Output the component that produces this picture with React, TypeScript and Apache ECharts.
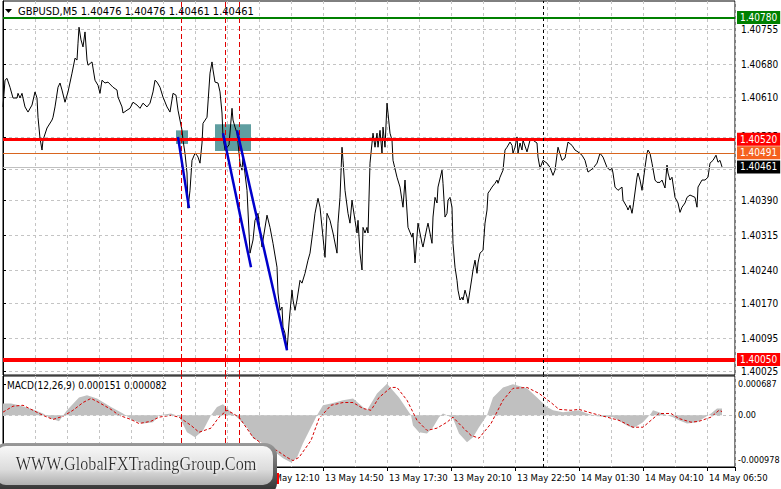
import React, { useEffect, useRef } from 'react';
import * as echarts from 'echarts';

const FONT = '"DejaVu Sans Condensed", "Liberation Sans", sans-serif';

const chartTitle = 'GBPUSD,M5 1.40476 1.40476 1.40461 1.40461';
const macdTitle = 'MACD(12,26,9) 0.000151 0.000082';
const logoText = 'WWW.GlobalFXTradingGroup.Com';

// time labels every 32 bars (M5 => 160 min), starting at bar 0
const timeLabels = [
  '13 May 01:30', '13 May 04:10', '13 May 06:50', '13 May 09:30', '13 May 12:10', '13 May 14:50',
  '13 May 17:30', '13 May 20:10', '13 May 22:50', '14 May 01:30', '14 May 04:10', '14 May 06:50',
];
const priceTicks = [1.40025, 1.40095, 1.4017, 1.4024, 1.40315, 1.4039, 1.40455, 1.40525, 1.4061, 1.4068, 1.40755];
const priceLabelTicks = [1.40025, 1.40095, 1.4017, 1.4024, 1.40315, 1.4039, 1.40525, 1.4061, 1.4068, 1.40755];
const macdTicks = [-0.000978, 0, 0.000687];

// [bar index, close]
const priceBars: [number, number][] = [
  [0, 1.40589], [1, 1.40646], [2, 1.4065], [3.5, 1.40631], [5, 1.40608], [7, 1.40608], [7.5, 1.40618], [8.5, 1.40608],
  [9.5, 1.40618], [10, 1.40608], [11, 1.40589], [12.5, 1.40578], [14.5, 1.40593], [16, 1.40621], [17, 1.40608],
  [17.5, 1.40567], [18.5, 1.40522], [19.5, 1.40497], [20, 1.40518], [22, 1.40544], [24.5, 1.40561], [25, 1.40567],
  [26, 1.40589], [27.5, 1.40631], [28.5, 1.4064], [29.5, 1.40625], [31, 1.40599], [32.5, 1.40621], [34.5, 1.40661],
  [36, 1.40693], [37, 1.40689], [37.5, 1.40725], [38, 1.40759], [39, 1.40732], [40, 1.40717], [41, 1.40749],
  [42, 1.40689], [42.5, 1.40678], [44.5, 1.40685], [46, 1.40646], [47.5, 1.40635], [48.5, 1.40618], [49.5, 1.40646],
  [51, 1.4064], [52.5, 1.40642], [55, 1.40631], [57, 1.40625], [57.5, 1.4061], [59.5, 1.40589], [60, 1.40576],
  [62, 1.40582], [63.5, 1.40586], [65, 1.40599], [67, 1.40593], [68.5, 1.40586], [70, 1.40597], [72, 1.40589],
  [73.5, 1.40597], [75, 1.40621], [76, 1.40646], [77, 1.40642], [78.5, 1.40631], [80, 1.4061], [82, 1.40589],
  [83.5, 1.40578], [85, 1.40618], [86.5, 1.40614], [87.5, 1.40582], [89.5, 1.40539], [90, 1.40518], [91, 1.4049],
  [92, 1.40448], [92.5, 1.40373], [93.5, 1.40411], [94.5, 1.40475], [96, 1.4049], [97, 1.40486], [97.5, 1.40482],
  [98.5, 1.40469], [99.5, 1.40512], [100, 1.40554], [102, 1.40567], [103.5, 1.40661], [104.5, 1.40685], [105, 1.40668],
  [106, 1.40642], [107.5, 1.4064], [108.5, 1.40621], [109.5, 1.40576], [110, 1.40525], [111, 1.40497], [113, 1.40508],
  [114.5, 1.40586], [115, 1.40561], [116, 1.40546], [117, 1.40533], [118.5, 1.40469], [119.5, 1.40454], [120, 1.40482],
  [122, 1.40411], [123.5, 1.40277], [125, 1.40305], [126, 1.40347], [127.5, 1.40362], [129.5, 1.4029], [130, 1.40305],
  [132, 1.40358], [133.5, 1.40332], [135, 1.40298], [137, 1.40247], [137.5, 1.40192], [138.5, 1.40155], [139.5, 1.40162],
  [140, 1.40119], [141, 1.40106], [142, 1.4007], [142.5, 1.40098], [143, 1.40128], [144.5, 1.40198], [145, 1.40177],
  [146, 1.40155], [147, 1.40177], [148.5, 1.40219], [149.5, 1.40213], [151, 1.40234], [152.5, 1.40262], [153.5, 1.40277],
  [155, 1.40326], [156, 1.40362], [157.5, 1.40394], [158.5, 1.40375], [160, 1.40311], [161, 1.40268], [162, 1.40362],
  [163.5, 1.40347], [165, 1.4032], [167, 1.40277], [167.5, 1.40341], [168.5, 1.40396], [169.5, 1.40503], [170, 1.40475],
  [171, 1.40411], [172.5, 1.40362], [173.5, 1.40341], [174.5, 1.4039], [175, 1.40375], [176, 1.40347], [177, 1.4032],
  [177.5, 1.40347], [178.5, 1.40277], [179.5, 1.40241], [180, 1.40332], [181, 1.4032], [182, 1.40332], [182.5, 1.4032],
  [183.5, 1.40469], [184.5, 1.40512], [185, 1.40533], [186, 1.40503], [187, 1.40533], [187.5, 1.40503], [188.5, 1.40539],
  [189.5, 1.4049], [190, 1.40546], [191, 1.40503], [192, 1.40597], [192.5, 1.40576], [193.5, 1.40533], [194.5, 1.40518],
  [195, 1.40475], [197, 1.40439], [198.5, 1.40418], [200, 1.40375], [201, 1.40433], [202.5, 1.40332], [204.5, 1.40311],
  [205, 1.4032], [206, 1.40256], [207.5, 1.40341], [209.5, 1.40298], [210, 1.4029], [212, 1.40332], [212.5, 1.40341],
  [214.5, 1.40298], [215, 1.40354], [216, 1.40396], [217, 1.40384], [217.5, 1.40418], [219.5, 1.40454], [220, 1.40426],
  [221, 1.40354], [222, 1.40362], [222.5, 1.4039], [223.5, 1.40396], [224.5, 1.40375], [225, 1.40298], [226, 1.40247],
  [227, 1.40219], [227.5, 1.40198], [228.5, 1.40177], [229.5, 1.40183], [230, 1.40177], [231, 1.40198], [232, 1.40183],
  [232.5, 1.4017], [233.5, 1.40198], [234.5, 1.40226], [235, 1.40241], [236, 1.40262], [237, 1.40234], [237.5, 1.40256],
  [238.5, 1.40277], [240, 1.40283], [241, 1.40341], [242, 1.40369], [242.5, 1.40405], [243.5, 1.40411], [244.5, 1.40418],
  [246, 1.40426], [247, 1.40433], [247.5, 1.40426], [248.5, 1.40439], [250, 1.40454], [251, 1.40497], [252, 1.40503],
  [253.5, 1.40514], [254.5, 1.40507], [255, 1.4049], [256, 1.40503], [257, 1.40525], [257.5, 1.4049], [258.5, 1.40512],
  [259.5, 1.40497], [260, 1.40518], [262, 1.40493], [263.5, 1.40518], [265, 1.40518], [267, 1.40512], [267.5, 1.40482],
  [268.5, 1.40458], [270, 1.40475], [272, 1.40469], [273.5, 1.4046], [275, 1.40443], [276, 1.40454], [277.5, 1.40503],
  [279.5, 1.40475], [281, 1.4048], [282.5, 1.40514], [284.5, 1.40507], [286, 1.40497], [287.5, 1.40493], [289.5, 1.40486],
  [291, 1.40475], [292.5, 1.4045], [295, 1.40458], [297, 1.40469], [298.5, 1.4049], [300, 1.40482], [302, 1.4046],
  [303.5, 1.40454], [304.5, 1.40458], [305, 1.40448], [306, 1.40418], [307.5, 1.40411], [309.5, 1.40418], [310, 1.4039],
  [312, 1.40375], [312.5, 1.40369], [313.5, 1.40379], [314.5, 1.40362], [315, 1.40375], [317, 1.40439], [317.5, 1.40448],
  [318.5, 1.40433], [319.5, 1.40411], [321, 1.4046], [322, 1.4049], [322.5, 1.40497], [323.5, 1.4049], [324.5, 1.40469],
  [326, 1.40433], [327, 1.40428], [328.5, 1.40428], [329.5, 1.40433], [331, 1.40416], [332, 1.40465], [332.5, 1.40448],
  [333.5, 1.40433], [334.5, 1.40439], [336, 1.40396], [337.5, 1.40384], [338.5, 1.40364], [339.5, 1.40375], [341, 1.40384],
  [342, 1.40396], [343.5, 1.40401], [346, 1.40396], [347, 1.40375], [347.5, 1.40418], [349.5, 1.40433], [351, 1.40433],
  [352.5, 1.40439], [353.5, 1.40469], [355, 1.40475], [356.5, 1.40486], [357.5, 1.40471], [358.5, 1.40475], [359.5, 1.40461],
];

const macdHist: [number, number][] = [
  [0, 0.00026], [4, 0.00026], [8, 0.00022], [15, 0.00013], [20, 0.00004], [24, -0.00007], [28, -0.00013], [32, 0.00011],
  [38, 0.00039], [42, 0.00044], [47, 0.00037], [54, 0.00018], [60, 0.00004], [65, -0.00011], [70, -0.00018], [75, -0.00015],
  [78, 0], [84, 0.00004], [88, -0.00002], [92, -0.00037], [96, -0.00048], [100, -0.00033], [104, 0], [107, 0.00018],
  [110, 0.00024], [114, 0.00007], [117, -0.00004], [122, -0.00026], [125, -0.0005], [130, -0.00061], [135, -0.00077],
  [140, -0.00094], [144, -0.00103], [147, -0.00092], [150, -0.00061], [154, -0.00026], [157, 0], [160, 0.00022],
  [164, 0.00026], [170, 0.00033], [175, 0.00037], [180, 0.00018], [182, 0.00011], [187, 0.00048], [192, 0.00069],
  [198, 0.00039], [204, 0], [205, -0.00022], [208, -0.00037], [212, -0.0004], [215, -0.00026], [218, -0.00004],
  [220, 0.00004], [222, 0], [225, -0.00007], [228, -0.0004], [232, -0.00059], [235, -0.00048], [238, -0.00026], [242, 0],
  [245, 0.00039], [250, 0.00061], [255, 0.00068], [262, 0.00059], [267, 0.00039], [272, 0.00018], [275, 0.00011],
  [280, 0.00007], [288, 0.00011], [292, 0.00004], [297, -0.00002], [305, -0.00004], [312, -0.00022], [315, -0.00028],
  [320, -0.00015], [324, 0.00004], [325, 0.00011], [328, 0.00007], [332, 0], [335, -0.00004], [338, -0.00011],
  [342, -0.00018], [347, -0.00015], [350, -0.00007], [354, 0.00004], [357, 0.00015], [359.5, 0.000151],
];

const macdSignal: [number, number][] = [
  [0, 0.00007], [5, 0.0002], [10, 0.00022], [15, 0.00011], [20, 0], [25, -0.00009], [30, -0.00002], [35, 0.00011],
  [40, 0.00028], [44, 0.00037], [48, 0.00028], [54, 0.00013], [58, 0], [64, -0.00009], [68, -0.00018], [74, -0.00013],
  [78, -0.00004], [84, 0], [88, -0.00004], [94, -0.00022], [98, -0.00037], [104, -0.00028], [108, -0.00004], [112, 0.00011],
  [115, 0.00004], [118, -0.00004], [125, -0.00048], [132, -0.0007], [137, -0.00077], [142, -0.00092], [145, -0.00099],
  [148, -0.00092], [154, -0.00055], [158, -0.00007], [164, 0.00022], [170, 0.00028], [175, 0.00028], [180, 0.00015],
  [184, 0.00011], [188, 0.00039], [194, 0.00061], [197, 0.00061], [202, 0.00033], [207, -0.00011], [212, -0.00033],
  [217, -0.00028], [222, -0.00015], [225, -0.00004], [228, -0.00018], [234, -0.00044], [238, -0.0005], [244, -0.00018],
  [250, 0.00033], [255, 0.00059], [262, 0.00061], [268, 0.00048], [274, 0.00028], [278, 0.00013], [284, 0.00011],
  [288, 0.00013], [295, 0.00004], [302, -0.00004], [308, -0.00011], [315, -0.00026], [320, -0.00026], [324, -0.00011],
  [328, 0.00004], [334, 0.00004], [338, -0.00007], [344, -0.00015], [348, -0.00013], [354, -0.00004], [358, 0.00011],
  [359.5, 0.000082],
];

const levelValues = [1.4078, 1.4052, 1.40491, 1.40461, 1.4005];
const levelLabels = ['1.40780', '1.40520', '1.40491', '1.40461', '1.40050'];
const levelStyles = [
  { line: '#008000', width: 2, bg: '#008000', fg: '#ffffff' },
  { line: '#ff0000', width: 3, bg: '#ff0000', fg: '#ffffff' },
  { line: '#d8651f', width: 1, bg: '#f5611f', fg: '#ffffff' },
  { line: '#c0c0c0', width: 1, bg: '#000000', fg: '#ffffff' },
  { line: '#ff0000', width: 4, bg: '#ff0000', fg: '#ffffff' },
];
const redVerticalBars = [89, 111.3, 118];
const blackVerticalBars = [270];
const trendLines: [number, number][][] = [
  [[87.5, 1.40525], [93, 1.40373]],
  [[110, 1.40533], [124, 1.40247]],
  [[117, 1.40539], [142, 1.4007]],
];
const zoneBoxes: [number, number][][] = [
  [[86.5, 1.40539], [92.5, 1.4051]],
  [[106, 1.40552], [124, 1.40495]],
];

export default function App() {
  const ref = useRef<HTMLDivElement>(null);
  useEffect(() => {
    if (!ref.current) return;
    const chart = echarts.init(ref.current, undefined, { renderer: 'svg' });
    const gridLine = { show: true, lineStyle: { color: '#c4c4c4', type: [3, 3], width: 1 } };
    const redV = redVerticalBars.map((x) => ({ xAxis: x, lineStyle: { color: '#e00000', width: 1, type: [5, 3] }, label: { show: false } }));
    const blackV = blackVerticalBars.map((x) => ({ xAxis: x, lineStyle: { color: '#000', width: 1, type: [3, 3] }, label: { show: false } }));
    const levels = levelValues.map((v, i) => ({
      yAxis: v,
      lineStyle: { color: levelStyles[i].line, width: levelStyles[i].width, type: 'solid' },
      label: {
        show: true, position: 'end', distance: 2, formatter: levelLabels[i],
        backgroundColor: levelStyles[i].bg, color: levelStyles[i].fg, padding: [2, 3, 1, 3],
        fontSize: 10, fontFamily: FONT,
      },
    }));
    const trends = trendLines.map((seg) => [
      { coord: seg[0], lineStyle: { color: '#0000cc', width: 2.5, type: 'solid' } },
      { coord: seg[1] },
    ]);
    const boxes = zoneBoxes.map((b) => [{ coord: b[0] }, { coord: b[1] }]);

    const option: any = {
      animation: false,
      backgroundColor: '#ffffff',
      textStyle: { fontFamily: FONT },
      grid: [
        { left: 3, top: 1, width: 732, height: 374, show: true, borderColor: '#000', borderWidth: 1, backgroundColor: '#fff', containLabel: false, outerBoundsMode: 'none' },
        { left: 3, top: 376, width: 732, height: 91, show: true, borderColor: '#000', borderWidth: 1, backgroundColor: '#fff', containLabel: false, outerBoundsMode: 'none' },
      ],
      xAxis: [
        { type: 'value', gridIndex: 0, min: 0, max: 366, interval: 16, axisLine: { show: false }, axisTick: { show: false }, axisLabel: { show: false }, splitLine: gridLine },
        { type: 'value', gridIndex: 1, min: 0, max: 366, interval: 16, axisLine: { show: false }, axisTick: { show: false }, axisLabel: { show: false }, splitLine: gridLine },
        {
          type: 'value', gridIndex: 1, min: 0, max: 366, interval: 32, position: 'bottom',
          axisLine: { show: true, lineStyle: { color: '#000' } },
          axisTick: { show: true, length: 4, lineStyle: { color: '#000' } },
          axisLabel: {
            show: true, align: 'left', padding: [0, 0, 0, 2], margin: 5, color: '#000', fontSize: 9.5,
            formatter: (v: number) => (v % 32 === 0 && timeLabels[v / 32] ? timeLabels[v / 32] : ''),
          },
          splitLine: { show: false },
        },
      ],
      yAxis: [
        {
          type: 'value', gridIndex: 0, position: 'right', min: 1.40017, max: 1.40815,
          axisLine: { show: true, lineStyle: { color: '#000' } },
          axisTick: { show: true, length: 3, customValues: priceTicks, lineStyle: { color: '#000' } },
          axisLabel: { customValues: priceLabelTicks, formatter: (v: number) => v.toFixed(5), color: '#000', fontSize: 10, margin: 6 },
          splitLine: gridLine,
        },
        {
          type: 'value', gridIndex: 1, position: 'right', min: -0.00113, max: 0.00086,
          axisLine: { show: true, lineStyle: { color: '#000' } },
          axisTick: { show: true, length: 3, customValues: macdTicks, lineStyle: { color: '#000' } },
          axisLabel: { customValues: macdTicks, formatter: (v: number) => (v === 0 ? '0.00' : v.toFixed(6)), color: '#000', fontSize: 9, margin: 3 },
          splitLine: { show: false },
        },
      ],
      series: [
        {
          type: 'line', xAxisIndex: 0, yAxisIndex: 0, data: priceBars, symbol: 'none', z: 3,
          lineStyle: { color: '#000', width: 1 },
          markArea: { silent: true, itemStyle: { color: '#5f9ea0' }, data: boxes },
          markLine: { silent: true, symbol: ['none', 'none'], precision: 5, data: [...levels, ...redV, ...blackV, ...trends] },
        },
        {
          type: 'line', xAxisIndex: 1, yAxisIndex: 1, data: macdHist, symbol: 'none', z: 2,
          lineStyle: { width: 0, color: '#c0c0c0' },
          itemStyle: { color: '#c0c0c0' },
          areaStyle: { color: '#c0c0c0', opacity: 1, origin: 0 },
          markLine: {
            silent: true, symbol: ['none', 'none'],
            data: [
              { yAxis: 0, lineStyle: { color: '#c4c4c4', width: 1, type: [3, 3] }, label: { show: false } },
              ...redV, ...blackV,
            ],
          },
        },
        {
          type: 'line', xAxisIndex: 1, yAxisIndex: 1, data: macdSignal, symbol: 'none', z: 4,
          lineStyle: { color: '#d40000', width: 1, type: [3, 2] },
        },
      ],
      graphic: [
        { type: 'polygon', shape: { points: [[5, 9], [12, 9], [8.5, 13]] }, style: { fill: '#000' }, z: 50 },
        { type: 'text', x: 18, y: 11, style: { text: chartTitle, fill: '#000', font: `11px ${FONT}`, verticalAlign: 'middle' }, z: 50 },
        { type: 'text', x: 7, y: 385, style: { text: macdTitle, fill: '#000', font: `10px ${FONT}`, verticalAlign: 'middle' }, z: 50 },
        { type: 'rect', shape: { x: 274, y: 473, width: 5, height: 11 }, style: { fill: '#ff0000' }, z: 50 },
        {
          type: 'rect', shape: { x: -6, y: 443, width: 283, height: 52, r: 12 },
          style: { fill: new echarts.graphic.LinearGradient(0, 0, 0, 1, [{ offset: 0, color: '#9a9a9a' }, { offset: 1, color: '#2a2a2a' }]) },
          z: 100,
        },
        {
          type: 'rect', shape: { x: -4, y: 446, width: 277, height: 39, r: 10 },
          style: { fill: new echarts.graphic.LinearGradient(0, 0, 0, 1, [{ offset: 0, color: '#f8f8f8' }, { offset: 0.6, color: '#dcdcdc' }, { offset: 1, color: '#b0b0b0' }]) },
          z: 101,
        },
        {
          type: 'text', x: 136, y: 464, scaleX: 0.9,
          style: {
            text: logoText, font: '18px "Liberation Serif", serif', fill: '#2e2e2e', align: 'center', verticalAlign: 'middle',
            textShadowColor: '#ffffff', textShadowBlur: 2, textShadowOffsetX: 1, textShadowOffsetY: 1,
          },
          z: 102,
        },
      ],
    };
    chart.setOption(option);
    return () => chart.dispose();
  }, []);
  return (
    <div
      ref={ref}
      style={{ position: 'absolute', left: 0, top: 0, width: 781, height: 489, background: '#fff' }}
    />
  );
}
